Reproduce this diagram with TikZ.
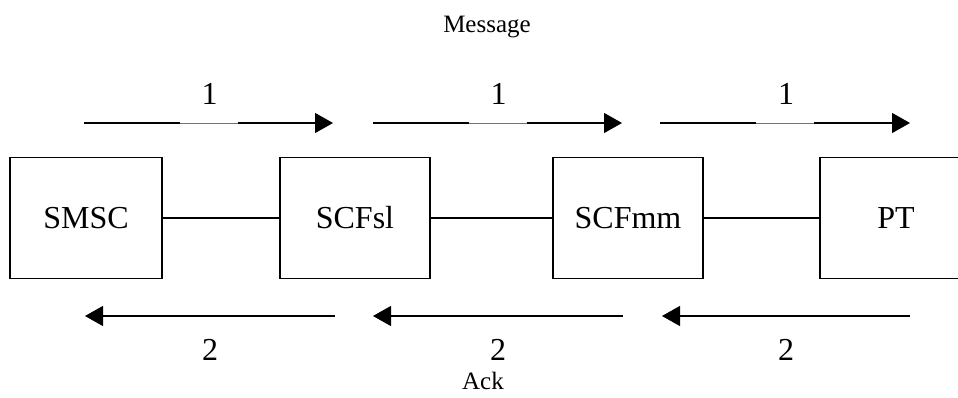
\documentclass[tikz,border=0pt]{standalone}
\usepackage{fontspec}
\setmainfont{Liberation Serif}
\usetikzlibrary{arrows.meta}
\begin{document}
\begin{tikzpicture}[x=1pt,y=-1pt,
  box/.style={draw,line width=1.5pt,minimum height=121pt,inner sep=0pt,font=\fontsize{32}{38}\selectfont},
  link/.style={line width=1.1pt},
  arr/.style={line width=1.3pt},
  gapline/.style={line width=0.7pt,draw=black!55},
  tipend/.style={-{Triangle[length=18pt,width=20pt]}},
  num/.style={inner sep=0pt,anchor=base,font=\fontsize{32}{38}\selectfont},
  captext/.style={inner sep=0pt,anchor=base,font=\fontsize{25}{30}\selectfont}]
\useasboundingbox (0,0) rectangle (958,398);
\clip (0,0) rectangle (958,398);
\fill[white] (0,0) rectangle (958,398);
% boxes
\node[box,minimum width=152pt] (smsc) at (86,218) {SMSC};
\node[box,minimum width=150pt] (scfsl) at (355,218) {SCFsl};
\node[box,minimum width=150pt] (scfmm) at (628,218) {SCFmm};
\node[box,minimum width=152pt] (pt) at (896,218) {PT};
\draw[link] (smsc) -- (scfsl);
\draw[link] (scfsl) -- (scfmm);
\draw[link] (scfmm) -- (pt);
% top arrows
\foreach \i/\s/\e in {1/84/333,2/373/622,3/660/910}{
  \pgfmathsetmacro{\m}{(\s+\e)/2}
  \coordinate (t\i s) at (\s,123);
  \coordinate (t\i a) at (\m-29,123);
  \coordinate (t\i b) at (\m+29,123);
  \coordinate (t\i e) at (\e,123);
  \draw[arr] (t\i s) -- (t\i a);
  \draw[gapline] (t\i a) -- (t\i b);
  \draw[arr,tipend] (t\i b) -- (t\i e);
  \node[num] (one\i) at (\m+1,105) {1};
}
% bottom arrows
\foreach \i/\s/\e in {1/335/85,2/623/373,3/910/662}{
  \pgfmathsetmacro{\m}{(\s+\e)/2}
  \coordinate (b\i s) at (\s,316);
  \coordinate (b\i e) at (\e,316);
  \draw[arr,tipend] (b\i s) -- (b\i e);
  \node[num] (two\i) at (\m,360) {2};
}
\node[captext] (msg) at (487,33) {Message};
\node[captext] (ack) at (483,389) {Ack};
\end{tikzpicture}
\end{document}
